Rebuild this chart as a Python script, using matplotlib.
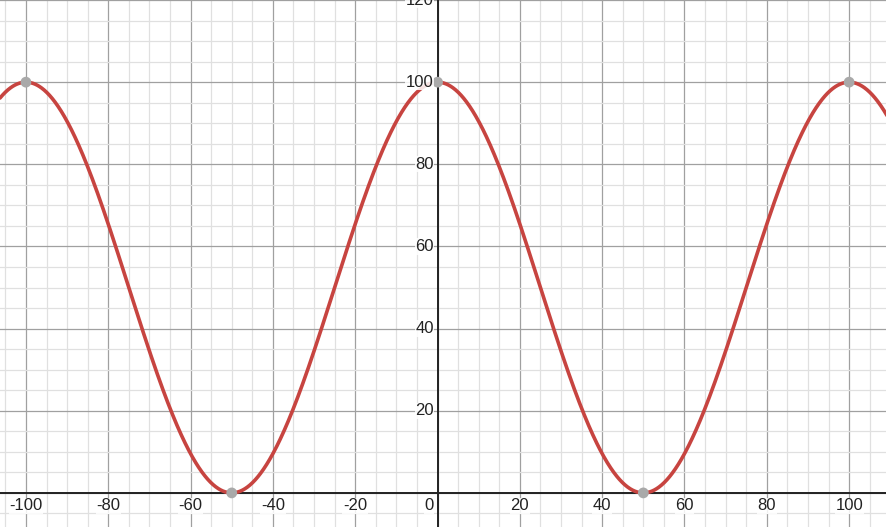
import numpy as np
import matplotlib.pyplot as plt

# curve parameters: peaks of 100 at x=-100,0,100, lows of 0 at x=-50,50
amplitude = 50
offset = 50
period = 100

# marked points
point_x = [-100, -50, 0, 50, 100]
point_y = [100, 0, 100, 0, 100]

x_ticks = [-100, -80, -60, -40, -20, 20, 40, 60, 80, 100]
y_ticks = [20, 40, 60, 80, 100, 120]

xmin, xmax = -106.3, 109.2
ymin, ymax = -8.3, 120.0

fig = plt.figure(figsize=(8.87, 5.27), dpi=100)
ax = fig.add_axes([0, 0, 1, 1])
ax.set_xlim(xmin, xmax)
ax.set_ylim(ymin, ymax)
ax.axis('off')

# grid
for gx in np.arange(-105, 110, 5):
    major = gx % 20 == 0
    ax.axvline(gx, color='#a0a0a0' if major else '#e0e0e0', lw=0.9, zorder=0)
for gy in np.arange(-5, 125, 5):
    major = gy % 20 == 0
    ax.axhline(gy, color='#a0a0a0' if major else '#e0e0e0', lw=0.9, zorder=0)

# axes
ax.axhline(0, color='#222222', lw=1.4, zorder=1)
ax.axvline(0, color='#222222', lw=1.4, zorder=1)

# curve
xs = np.linspace(xmin, xmax, 2000)
ys = offset + amplitude * np.cos(2 * np.pi * xs / period)
ax.plot(xs, ys, color='#c74440', lw=2.6, zorder=3, solid_capstyle='round')
ax.scatter(point_x, point_y, s=60, color='#a9a9a9', zorder=4, edgecolors='none')

# tick labels
halo = dict(facecolor='white', edgecolor='none', pad=0.5, alpha=0.85)
for t in x_ticks:
    ax.text(t, -1.3, str(t), ha='center', va='top', fontsize=12,
            family='Liberation Sans', color='#222222', zorder=5, bbox=halo)
ax.text(-0.9, -1.3, '0', ha='right', va='top', fontsize=12,
        family='Liberation Sans', color='#222222', zorder=5, bbox=halo)
for t in y_ticks:
    ax.text(-0.9, t, str(t), ha='right', va='center', fontsize=12,
            family='Liberation Sans', color='#222222', zorder=5, bbox=halo)

fig.savefig('out.png', dpi=100)
